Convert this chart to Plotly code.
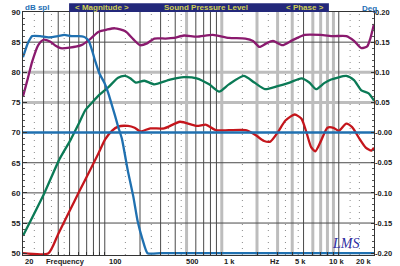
import numpy as np
import plotly.graph_objects as go

# ---------------- data ----------------
mag_blue_f = [20, 22, 24, 28, 33, 40, 45, 52, 60, 66, 70, 73, 78, 83, 90, 99, 107, 114, 122, 130, 140, 158, 175, 191, 210, 232, 300, 1000, 5000, 20000]
mag_blue_v = [82.5, 84.8, 86.0, 86.0, 85.8, 86.0, 86.2, 86.0, 86.0, 85.9, 85.6, 85.2, 83.6, 81.8, 79.8, 78.3, 76.6, 74.8, 72.9, 71.0, 69.0, 63.5, 59.5, 55.3, 52.3, 50.0, 50.0, 50.0, 50.0, 50.0]

purple_f = [20, 22, 24, 27, 30, 34, 38, 42, 50, 63, 75, 88, 105, 122, 150, 175, 200, 230, 265, 330, 392, 475, 610, 840, 1150, 1590, 1850, 2100, 2400, 2740, 3300, 4000, 5100, 7000, 9000, 11600, 13500, 15600, 17500, 18600, 20000]
purple_v = [76.0, 79.0, 81.8, 84.5, 85.4, 85.1, 84.4, 84.0, 84.1, 84.5, 85.5, 86.7, 87.1, 87.3, 86.8, 85.5, 84.5, 84.8, 85.6, 85.6, 85.7, 86.1, 85.9, 86.2, 85.7, 85.6, 85.2, 84.2, 84.8, 85.2, 84.5, 85.3, 86.2, 86.2, 86.0, 86.0, 85.2, 84.0, 84.3, 85.6, 88.0]

green_f = [20, 30.5, 41, 51, 60, 68, 78, 88, 107, 130, 149, 165, 184, 218, 265, 361, 475, 610, 780, 950, 1150, 1540, 1900, 2340, 3000, 3800, 4800, 5600, 6400, 7500, 8600, 11600, 13500, 15600, 18000, 20000]
green_v = [52.9, 60.0, 65.6, 68.8, 71.5, 73.7, 75.0, 76.1, 77.5, 79.1, 79.4, 79.0, 78.3, 78.6, 78.0, 78.8, 79.2, 79.0, 78.0, 76.8, 78.0, 79.4, 78.3, 77.2, 77.7, 78.3, 79.0, 78.3, 77.2, 78.2, 78.8, 79.4, 78.7, 77.0, 76.5, 75.3]

red_f = [20, 33, 40, 50, 60, 75, 88, 101, 115, 130, 158, 180, 202, 245, 322, 440, 610, 735, 890, 1150, 1600, 1940, 2300, 2600, 3000, 3500, 4200, 4800, 5300, 5800, 6300, 7000, 8000, 9000, 10000, 11600, 13000, 15000, 17000, 19000, 20000]
red_v = [50.0, 50.0, 53.2, 57.0, 60.1, 63.8, 66.5, 68.9, 70.3, 71.0, 71.1, 70.8, 70.2, 70.7, 70.7, 71.8, 71.1, 71.3, 70.4, 70.4, 70.4, 69.6, 68.6, 68.5, 70.0, 72.0, 73.0, 72.3, 70.0, 67.6, 66.9, 68.5, 70.8, 70.8, 70.3, 71.5, 70.9, 69.0, 67.5, 67.0, 67.5]

phase_f = [20, 20000]
phase_v = [0.0, 0.0]

# grid
grid_dark_f = [30, 40, 50, 60, 70, 80, 90, 100, 200, 300, 400, 600, 700, 800, 900, 5000, 10000]
grid_gray_f = [500, 1000, 2000, 3000, 4000, 6000, 7000, 8000, 9000]
grid_dot_f = [25, 35, 45, 150, 250, 350, 450, 1500, 2500, 3500, 4500, 12500, 15000]
grid_dark_db = [85, 65, 60, 55]
grid_gray_db = [80, 75]

left_ticks = [50, 55, 60, 65, 70, 75, 80, 85, 90]
right_ticks = [-0.20, -0.15, -0.10, -0.05, 0.0, 0.05, 0.10, 0.15, 0.20]
right_text = ["-0.20", "-0.15", "-0.10", "-0.05", "-0.00", "0.05", "0.10", "0.15", "0.20"]

x_labels = ["20", "Frequency", "100", "500", "1 k", "Hz", "5 k", "10 k", "20 k"]
x_label_f = [20, 30.5, 100, 500, 1000, 2500, 5000, 10000, 20000]
x_label_anchor = ["left", "left", "left", "left", "left", "left", "center", "center", "right"]
x_label_shift = [0, 0, 2, -3, 0, 0, -3, -2, -1]

header_texts = ["< Magnitude >", "Sound Pressure Level", "< Phase >"]

# ---------------- figure ----------------
Y0, Y1 = 49.7, 90.0
FONT = "Liberation Sans, Arial, sans-serif"

fig = go.Figure()

def vlines(freqs):
    xs, ys = [], []
    for f in freqs:
        xs += [f, f, None]
        ys += [Y0, Y1, None]
    return xs, ys

def hlines(dbs):
    xs, ys = [], []
    for d in dbs:
        xs += [20, 20000, None]
        ys += [d, d, None]
    return xs, ys

xs, ys = vlines(grid_dot_f)
fig.add_trace(go.Scatter(x=xs, y=ys, mode="lines", line=dict(color="#8a8a8a", width=1, dash="1px,5px"), hoverinfo="skip", showlegend=False))
xs, ys = vlines(grid_gray_f)
x2, y2 = hlines(grid_gray_db)
fig.add_trace(go.Scatter(x=xs + x2, y=ys + y2, mode="lines", line=dict(color="#bdbdbd", width=3), hoverinfo="skip", showlegend=False))
xs, ys = vlines(grid_dark_f)
x2, y2 = hlines(grid_dark_db)
fig.add_trace(go.Scatter(x=xs + x2, y=ys + y2, mode="lines", line=dict(color="#4a4a4a", width=1), hoverinfo="skip", showlegend=False))

fig.add_trace(go.Scatter(x=phase_f, y=phase_v, yaxis="y2", mode="lines", line=dict(color="#1f70b0", width=2.5), showlegend=False))
fig.add_trace(go.Scatter(x=red_f, y=red_v, mode="lines", line=dict(color="#c4161c", width=2.3, shape="spline", smoothing=0.6), showlegend=False))
fig.add_trace(go.Scatter(x=green_f, y=green_v, mode="lines", line=dict(color="#0b7a56", width=2.3, shape="spline", smoothing=0.6), showlegend=False))
fig.add_trace(go.Scatter(x=purple_f, y=purple_v, mode="lines", line=dict(color="#8a1a6e", width=2.3, shape="spline", smoothing=0.6), showlegend=False))
fig.add_trace(go.Scatter(x=mag_blue_f, y=mag_blue_v, mode="lines", line=dict(color="#1f70b0", width=2.3, shape="spline", smoothing=0.5), showlegend=False))

annotations = []
for t, f, a, s in zip(x_labels, x_label_f, x_label_anchor, x_label_shift):
    annotations.append(dict(text=t, x=np.log10(f), xref="x", y=0, yref="paper", xanchor=a, yanchor="top",
                            xshift=s, yshift=0, showarrow=False,
                            font=dict(family=FONT, size=7.5, color="#222", weight="bold")))

H = 249.0
def py(p):
    return (258 - p) / H
def px(p):
    return (p - 23) / 358.0

for t, cx in zip(header_texts, [104, 210, 311]):
    annotations.append(dict(text=t, x=px(cx), xref="paper", y=py(4.5), yref="paper", xanchor="center", yanchor="middle",
                            showarrow=False, font=dict(family=FONT, size=8, color="#cfcf55", weight="bold")))
annotations.append(dict(text="dB spl", x=px(23), xref="paper", y=py(4.5), yref="paper", xanchor="left", yanchor="middle",
                        showarrow=False, font=dict(family=FONT, size=8, color="#1f6fb5", weight="bold")))
annotations.append(dict(text="Deg", x=px(367), xref="paper", y=py(5.5), yref="paper", xanchor="left", yanchor="middle",
                        showarrow=False, font=dict(family=FONT, size=8, color="#1f6fb5", weight="bold")))
annotations.append(dict(text="<i>LMS</i>", x=px(352), xref="paper", y=py(246), yref="paper", xanchor="center", yanchor="middle",
                        showarrow=False, font=dict(family="Liberation Serif, serif", size=14, color="#2b2ba0")))

shapes = [dict(type="rect", xref="paper", yref="paper", x0=px(70), x1=px(335), y0=py(9), y1=py(0),
               fillcolor="#23287a", line=dict(width=0), layer="above")]

fig.update_layout(
    width=400, height=266,
    margin=dict(l=23, r=19, t=9, b=8),
    paper_bgcolor="white", plot_bgcolor="white",
    showlegend=False,
    font=dict(family=FONT, size=8, color="#222"),
    xaxis=dict(type="log", range=[np.log10(20), np.log10(20000)], showgrid=False, zeroline=False,
               showticklabels=False, showline=True, linecolor="#333", linewidth=1, mirror=True,
               ticks="inside", ticklen=3, tickcolor="#333", tickvals=grid_dark_f + grid_gray_f),
    yaxis=dict(range=[Y0, Y1], showgrid=False, zeroline=False, showline=True, linecolor="#333", linewidth=1,
               mirror=True, tickvals=left_ticks, ticks="inside", ticklen=4, tickcolor="#333",
               minor=dict(dtick=1, ticks="inside", ticklen=2, tickcolor="#555"),
               tickfont=dict(family=FONT, size=8, color="#222", weight="bold")),
    yaxis2=dict(overlaying="y", side="right", range=[(Y0 - 70) / 100.0, (Y1 - 70) / 100.0], showgrid=False,
                zeroline=False, tickvals=right_ticks, ticktext=right_text, ticks="inside", ticklen=3,
                tickcolor="#333", minor=dict(dtick=0.01, ticks="inside", ticklen=2, tickcolor="#555"),
                tickfont=dict(family=FONT, size=7.5, color="#222", weight="bold")),
    annotations=annotations,
    shapes=shapes,
)

fig.write_html("out.html")
